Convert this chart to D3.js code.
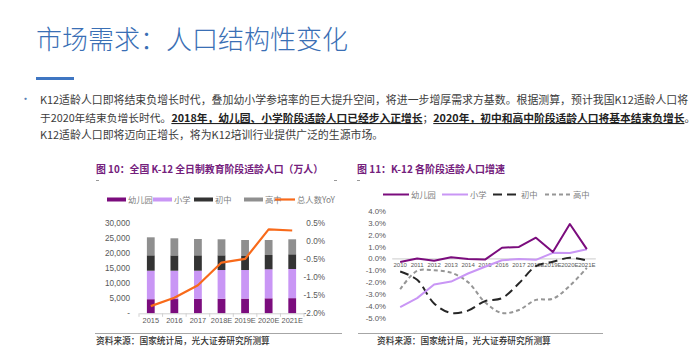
<!DOCTYPE html>
<html>
<head>
<meta charset="utf-8">
<script src="https://cdn.jsdelivr.net/npm/d3@7"></script>
<style>
  body { margin: 0; background: #fff; }
  svg { display: block; }
  text { font-family: "Noto Sans CJK SC", "Noto Sans", sans-serif; }
  .num text, text.num { font-family: "Liberation Sans", Arial, sans-serif; }
</style>
</head>
<body>
<svg id="page" width="700" height="350"></svg>
<script>
// figure 10: population by stage (10k people)
const years = ['2015', '2016', '2017', '2018E', '2019E', '2020E', '2021E'];
const kinder = [4700, 4750, 4800, 4850, 4900, 5000, 5050];
const primary = [9500, 9450, 9400, 9580, 9530, 9670, 9720];
const junior = [5130, 5100, 5130, 4900, 4670, 4760, 4900];
const senior = [6000, 5700, 5440, 5340, 5330, 5000, 5000];
const totalYoY = [-0.0180, -0.0157, -0.0122, -0.0059, -0.0049, 0.0033, 0.0030];
const popTicks = [0, 5000, 10000, 15000, 20000, 25000, 30000];
const yoyTicks = [-0.02, -0.015, -0.01, -0.005, 0, 0.005];

// figure 11: growth by stage
const growthYears = ['2010', '2011', '2012', '2013', '2014', '2015', '2016', '2017', '2018E', '2019E', '2020E', '2021E'];
const kinderGrowth = [-0.003, 0, -0.002, 0.001, -0.0005, -0.001, 0.009, 0.0097, 0.0175, 0.0055, 0.029, 0.0078];
const primaryGrowth = [-0.041, -0.0335, -0.022, -0.0195, -0.0127, -0.007, -0.0015, -0.0005, -0.0012, 0.0047, 0.0046, 0.0078];
const juniorGrowth = [-0.011, -0.018, -0.038, -0.046, -0.044, -0.036, -0.0335, -0.021, -0.0065, -0.0028, 0.0005, -0.0018];
const seniorGrowth = [-0.026, -0.0105, -0.010, -0.012, -0.020, -0.037, -0.046, -0.0435, -0.035, -0.034, -0.023, -0.008];
const growthTicks = [0.04, 0.03, 0.02, 0.01, 0, -0.01, -0.02, -0.03, -0.04, -0.05];

const stageNames = ['幼儿园', '小学', '初中', '高中'];
const stageColors = ['#7b0c7d', '#c996f5', '#333333', '#8f8f8f'];
const orange = '#f86a1a';
const pct = d => (d * 100).toFixed(1) + '%';

const svg = d3.select('#page');

// HEADER
svg.append('text')
  .attr('x', 36).attr('y', 49)
  .attr('font-size', 26)
  .attr('font-weight', 300)
  .attr('fill', '#3a6fb5')
  .text('市场需求：人口结构性变化');

svg.append('rect')
  .attr('x', 36).attr('y', 77)
  .attr('width', 38).attr('height', 3)
  .attr('fill', '#3f76c2');

svg.append('text')
  .attr('x', 20).attr('y', 103)
  .attr('font-size', 11)
  .attr('fill', '#5b7fb5')
  .text('•');

const para = [
  [['K12适龄人口即将结束负增长时代，叠加幼小学参培率的巨大提升空间，将进一步增厚需求方基数。根据测算，预计我国K12适龄人口将', false]],
  [['于2020年结束负增长时代。', false], ['2018年，幼儿园、小学阶段适龄人口已经步入正增长', true], ['；', false],
   ['2020年，初中和高中阶段适龄人口将基本结束负增长', true], ['。', false]],
  [['K12适龄人口即将迈向正增长，将为K12培训行业提供广泛的生源市场。', false]]
];
const paraY = [104, 122, 139];
const paraSize = [10.9, 10.75, 10.9];

para.forEach((line, i) => {
  const t = svg.append('text')
    .attr('x', 40).attr('y', paraY[i])
    .attr('font-size', paraSize[i])
    .attr('fill', '#3c3c3c');
  line.forEach(([s, bold]) => {
    const ts = t.append('tspan').text(s);
    if (bold) ts.attr('font-weight', 700).style('text-decoration', 'underline').attr('fill', '#222');
  });
});

// CHART TITLES
function chartTitle(x, label, width) {
  svg.append('text')
    .attr('x', x).attr('y', 173)
    .attr('font-size', 10.2)
    .attr('font-weight', 700)
    .attr('fill', '#74207c')
    .attr('textLength', width)
    .attr('lengthAdjust', 'spacingAndGlyphs')
    .text(label);
  svg.append('line')
    .attr('x1', x).attr('x2', x + 3)
    .attr('y1', 180.5).attr('y2', 180.5)
    .attr('stroke', '#999');
}
chartTitle(96, '图 10：全国 K-12 全日制教育阶段适龄人口（万人）', 227);
chartTitle(357, '图 11：K-12 各阶段适龄人口增速', 148);
svg.append('line')
  .attr('x1', 334).attr('x2', 337)
  .attr('y1', 180.5).attr('y2', 180.5)
  .attr('stroke', '#999');

// SOURCE LINES
[[95, 342, 96], [358, 603, 377]].forEach(([x1, x2, tx]) => {
  svg.append('line')
    .attr('x1', x1).attr('x2', x2)
    .attr('y1', 333.5).attr('y2', 333.5)
    .attr('stroke', '#a6a6a6')
    .attr('stroke-width', 1);
  svg.append('text')
    .attr('x', tx).attr('y', 344)
    .attr('font-size', 8.7)
    .attr('font-weight', 500)
    .attr('fill', '#333')
    .text('资料来源：国家统计局，光大证券研究所测算');
});

// LEFT CHART
const x1 = d3.scaleBand()
  .domain(years)
  .range([139, 304])
  .paddingInner(0.67)
  .paddingOuter(0.335);
const yPop = d3.scaleLinear().domain([0, 30000]).range([313.3, 223.3]);
const yYoY = d3.scaleLinear().domain([-0.02, 0.005]).range([313.3, 223.3]);

const popRows = years.map((y, i) => ({
  year: y, s0: kinder[i], s1: primary[i], s2: junior[i], s3: senior[i]
}));
const stacked = d3.stack().keys(['s0', 's1', 's2', 's3'])(popRows);

svg.append('g')
  .selectAll('g')
  .data(stacked)
  .join('g')
  .attr('fill', (d, i) => stageColors[i])
  .selectAll('rect')
  .data(d => d)
  .join('rect')
  .attr('x', d => x1(d.data.year))
  .attr('width', x1.bandwidth())
  .attr('y', d => yPop(d[1]))
  .attr('height', d => yPop(d[0]) - yPop(d[1]));

const leftAxis = svg.append('g')
  .attr('class', 'num')
  .attr('transform', 'translate(130,0)')
  .call(d3.axisLeft(yPop)
    .tickValues(popTicks)
    .tickSize(0)
    .tickPadding(0)
    .tickFormat(d => d === 0 ? '-  ' : d3.format(',')(d)));
leftAxis.select('.domain').remove();
leftAxis.selectAll('text').attr('font-size', 8.2).attr('fill', '#595959');

const yoyAxis = svg.append('g')
  .attr('class', 'num')
  .attr('transform', 'translate(325,0)')
  .call(d3.axisRight(yYoY)
    .tickValues(yoyTicks)
    .tickSize(0)
    .tickPadding(0)
    .tickFormat(pct));
yoyAxis.select('.domain').remove();
yoyAxis.selectAll('text')
  .attr('text-anchor', 'end')
  .attr('x', 0)
  .attr('font-size', 8.2)
  .attr('fill', '#595959');

const xAxis1 = svg.append('g')
  .attr('class', 'num')
  .attr('transform', 'translate(0,313.3)')
  .call(d3.axisBottom(x1).tickSize(0).tickPadding(4));
xAxis1.select('.domain').attr('stroke', '#d0d0d0');
xAxis1.selectAll('text').attr('font-size', 7.4).attr('fill', '#595959');

// category separator ticks
const step1 = x1.step();
xAxis1.selectAll('.sep')
  .data(years.concat(['end']))
  .join('line')
  .attr('class', 'sep')
  .attr('x1', (d, i) => x1.range()[0] + i * step1)
  .attr('x2', (d, i) => x1.range()[0] + i * step1)
  .attr('y1', 0).attr('y2', 3.5)
  .attr('stroke', '#d0d0d0');

const yoyLine = d3.line()
  .x((d, i) => x1(years[i]) + x1.bandwidth() / 2)
  .y(d => yYoY(d));

svg.append('path')
  .datum(totalYoY)
  .attr('d', yoyLine)
  .attr('fill', 'none')
  .attr('stroke', orange)
  .attr('stroke-width', 2.2)
  .attr('stroke-linejoin', 'round');

// left legend
const leftLegendX = [107, 153, 194, 244];
stageNames.forEach((name, i) => {
  svg.append('rect')
    .attr('x', leftLegendX[i]).attr('y', 197.5)
    .attr('width', 19).attr('height', 4)
    .attr('fill', stageColors[i]);
  svg.append('text')
    .attr('x', leftLegendX[i] + 21).attr('y', 202.5)
    .attr('font-size', 8.3)
    .attr('fill', '#808080')
    .text(name);
});
svg.append('line')
  .attr('x1', 275).attr('x2', 295)
  .attr('y1', 199.5).attr('y2', 199.5)
  .attr('stroke', orange)
  .attr('stroke-width', 2.2);
svg.append('text')
  .attr('x', 297).attr('y', 202.5)
  .attr('font-size', 8.3)
  .attr('fill', '#808080')
  .attr('textLength', 38)
  .attr('lengthAdjust', 'spacingAndGlyphs')
  .text('总人数YoY');

// RIGHT CHART
const x2 = d3.scaleBand()
  .domain(growthYears)
  .range([391.7, 595.3]);
const yGrowth = d3.scaleLinear().domain([-0.05, 0.04]).range([317.7, 211]);

const growthAxis = svg.append('g')
  .attr('class', 'num')
  .attr('transform', 'translate(386,0)')
  .call(d3.axisLeft(yGrowth)
    .tickValues(growthTicks)
    .tickSize(0)
    .tickPadding(0)
    .tickFormat(pct));
growthAxis.select('.domain').remove();
growthAxis.selectAll('text').attr('font-size', 7.8).attr('fill', '#595959');

const xAxis2 = svg.append('g')
  .attr('class', 'num')
  .attr('transform', `translate(0,${yGrowth(0)})`)
  .call(d3.axisBottom(x2).tickSize(0).tickPadding(4));
xAxis2.select('.domain').attr('stroke', '#d6d6d6').attr('stroke-width', 1.2);
xAxis2.selectAll('text').attr('font-size', 6).attr('fill', '#595959');

const growthSeries = [
  { values: kinderGrowth, color: stageColors[0], dash: null, curve: d3.curveLinear },
  { values: primaryGrowth, color: stageColors[1], dash: null, curve: d3.curveLinear },
  { values: juniorGrowth, color: '#262626', dash: '9,5', curve: d3.curveCatmullRom },
  { values: seniorGrowth, color: '#969696', dash: '4,3', curve: d3.curveCatmullRom }
];

growthSeries.slice().reverse().forEach(s => {
  const line = d3.line()
    .x((d, i) => x2(growthYears[i]) + x2.bandwidth() / 2)
    .y(d => yGrowth(d))
    .curve(s.curve);
  svg.append('path')
    .datum(s.values)
    .attr('d', line)
    .attr('fill', 'none')
    .attr('stroke', s.color)
    .attr('stroke-width', 2)
    .attr('stroke-dasharray', s.dash)
    .attr('stroke-linejoin', 'round');
});

// right legend
const rightLegendX = [383, 442, 493, 545];
growthSeries.forEach((s, i) => {
  svg.append('line')
    .attr('x1', rightLegendX[i]).attr('x2', rightLegendX[i] + 26)
    .attr('y1', 194.5).attr('y2', 194.5)
    .attr('stroke', s.color)
    .attr('stroke-width', 2)
    .attr('stroke-dasharray', s.dash);
  svg.append('text')
    .attr('x', rightLegendX[i] + 28).attr('y', 197.5)
    .attr('font-size', 8.3)
    .attr('fill', '#808080')
    .text(stageNames[i]);
});
</script>
</body>
</html>
